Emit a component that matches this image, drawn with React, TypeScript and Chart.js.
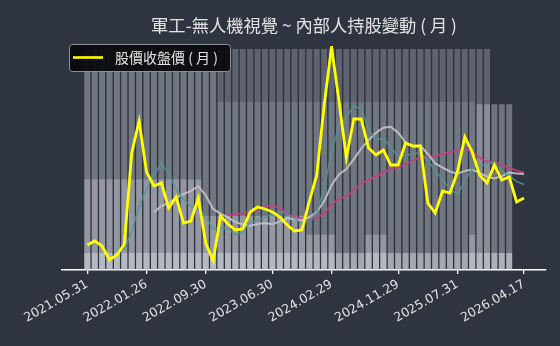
import React, { useEffect, useRef } from 'react';
import { Chart, registerables } from 'chart.js';

Chart.register(...registerables);

const TITLE = '軍工-無人機視覺 ~ 內部人持股變動 ( 月 )';
const LEGEND_LABEL = '股價收盤價 ( 月 )';

const months = [
  '2021.05.31', '2021.06.30', '2021.07.30', '2021.08.31', '2021.09.30', '2021.10.29', '2021.11.30', '2021.12.30',
  '2022.01.26', '2022.02.25', '2022.03.31', '2022.04.29', '2022.05.31', '2022.06.30', '2022.07.29', '2022.08.31',
  '2022.09.30', '2022.10.31', '2022.11.30', '2022.12.30',
  '2023.01.31', '2023.02.24', '2023.03.31', '2023.04.28', '2023.05.31', '2023.06.30', '2023.07.31', '2023.08.31',
  '2023.09.28', '2023.10.31', '2023.11.30', '2023.12.29',
  '2024.01.31', '2024.02.29', '2024.03.29', '2024.04.30', '2024.05.31', '2024.06.28', '2024.07.31', '2024.08.30',
  '2024.09.30', '2024.10.30', '2024.11.29', '2024.12.31',
  '2025.01.22', '2025.02.27', '2025.03.31', '2025.04.30', '2025.05.30', '2025.06.30', '2025.07.31', '2025.08.29',
  '2025.09.30', '2025.10.31', '2025.11.28', '2025.12.31',
  '2026.01.30', '2026.02.26', '2026.03.31', '2026.04.17',
];

const tickIndices = [0, 8, 16, 25, 33, 42, 50, 59];

const closePrice = [
  12.5, 14.5, 12, 5, 7.5, 13, 58.5, 74.5, 49, 42,
  43.5, 31, 36.5, 23.5, 24.5, 36, 13.5, 4.5, 27, 23,
  20, 20.5, 29, 31.5, 30.5, 29, 26.5, 22.5, 19.5, 20,
  34.5, 47.5, 82.5, 111.5, 84.5, 56, 75.5, 75.5, 61, 57.5,
  60, 52.5, 52.5, 63.5, 62, 62, 33.5, 28.5, 39.5, 38.5,
  49, 66.5, 59, 47.5, 43.5, 52.5, 45, 46.5, 34, 36,
];

const ma5 = [
  null, null, null, null,
  10.3, 10.4, 19.2, 31.7, 40.5, 47.4, 53.5, 48, 40.4, 35.3,
  31.8, 30.3, 26.8, 20.4, 21.1, 20.8, 17.6, 19, 23.9, 24.8,
  26.3, 28.1, 29.3, 28, 25.6, 23.5, 24.6, 28.8, 40.8, 59.2,
  72.1, 76.4, 82, 80.6, 70.5, 65.1, 65.9, 61.3, 56.7, 57.2,
  58.1, 58.5, 54.7, 49.9, 45.1, 40.4, 37.8, 44.4, 50.5, 52.1,
  53.1, 53.8, 49.5, 47, 44.3, 42.8,
];

const ma10 = [
  null, null, null, null, null, null, null, null, null,
  28.85, 31.95, 33.6, 36.05, 37.9, 39.6, 41.9, 37.4, 30.4, 28.2,
  26.3, 23.95, 22.9, 22.15, 22.95, 23.55, 22.85, 24.15, 25.95, 25.2,
  24.9, 26.35, 29.05, 34.4, 42.4, 47.8, 50.5, 55.4, 60.7, 64.85,
  68.6, 71.15, 71.65, 68.65, 63.85, 61.6, 62.2, 58, 53.3, 51.15,
  49.25, 48.15, 49.55, 50.2, 48.6, 46.75, 45.8, 46.95, 48.75, 48.2, 47.95,
];

const ma20 = [
  null, null, null, null, null, null, null, null, null, null,
  null, null, null, null, null, null, null, null, null,
  27.6, 27.95, 28.25, 29.1, 30.4, 31.6, 32.4, 30.8, 28.2, 26.7,
  25.6, 25.15, 26, 28.3, 32.7, 35.7, 36.7, 39.8, 43.3, 45,
  46.75, 48.75, 50.35, 51.5, 53.1, 54.7, 56.35, 56.7, 57, 58,
  58.9, 59.65, 60.6, 59.4, 56.2, 54.2, 54, 52.5, 51, 49.7, 48.6,
];

// holding layers (%), one value per month up to 2026.02
const holdTotal = [
  100, 100, 100, 100, 100, 100, 100, 100, 100, 100,
  100, 100, 100, 100, 100, 100, 100, 100, 100, 100,
  100, 100, 100, 100, 100, 100, 100, 100, 100, 100,
  100, 100, 100, 100, 100, 100, 100, 100, 100, 100,
  100, 100, 100, 100, 100, 100, 100, 100, 100, 100,
  100, 100, 100, 100, 100, 0, 0, 0,
];
const holdMajor = [
  100, 100, 100, 100, 100, 100, 100, 100, 100, 100,
  100, 100, 100, 100, 100, 100, 100, 100, 76, 76,
  76, 76, 76, 76, 76, 76, 76, 76, 76, 76,
  76, 76, 76, 76, 76, 76, 76, 76, 76, 76,
  76, 76, 76, 76, 76, 76, 76, 76, 76, 76,
  76, 76, 76, 0, 0, 0, 0, 0,
];
const holdDirectors = [
  41, 41, 41, 41, 41, 41, 41, 41, 41, 41,
  41, 41, 41, 41, 41, 41, 24.5, 24.5, 24.5, 24.5,
  24.5, 24.5, 24.5, 24.5, 24.5, 24.5, 24.5, 24.5, 24.5, 24.5,
  16, 16, 16, 16, 0, 0, 0, 0, 16, 16,
  16, 0, 0, 0, 0, 0, 0, 0, 0, 0,
  0, 0, 16, 75, 75, 75, 75, 75,
];
const holdManagers = [
  7.7, 7.7, 7.7, 7.7, 7.7, 7.7, 7.7, 7.7, 7.7, 7.7,
  7.7, 7.7, 7.7, 7.7, 7.7, 7.7, 7.7, 7.7, 7.7, 7.7,
  7.7, 7.7, 7.7, 7.7, 7.7, 7.7, 7.7, 7.7, 7.7, 7.7,
  7.7, 7.7, 7.7, 7.7, 7.7, 7.7, 7.7, 7.7, 7.7, 7.7,
  7.7, 7.7, 7.7, 7.7, 7.7, 7.7, 7.7, 7.7, 7.7, 7.7,
  7.7, 7.7, 7.7, 7.7, 7.7, 7.7, 7.7, 7.7,
];

const BG = '#2f3540';
const TEXT = '#e2e2e2';
const CJK = '"Noto Sans CJK TC", "Noto Sans", sans-serif';

const toXY = (arr: (number | null)[]) => arr.map((v, i) => ({ x: i, y: v }));

const overlayPlugin = {
  id: 'overlay',
  afterDraw(chart: any) {
    const ctx = chart.ctx as CanvasRenderingContext2D;
    const area = chart.chartArea;
    ctx.save();
    // title
    ctx.fillStyle = TEXT;
    ctx.font = `17.3px ${CJK}`;
    ctx.textAlign = 'center';
    ctx.textBaseline = 'middle';
    ctx.fillText(TITLE, (area.left + area.right) / 2, 25);
    // legend box
    const bx = 69, by = 44, bw = 161, bh = 27;
    ctx.beginPath();
    ctx.roundRect(bx + 0.5, by + 0.5, bw, bh, 3);
    ctx.fillStyle = 'rgba(8,9,11,0.92)';
    ctx.fill();
    ctx.strokeStyle = '#8d9197';
    ctx.lineWidth = 1;
    ctx.stroke();
    ctx.beginPath();
    ctx.moveTo(bx + 4, by + 13.5);
    ctx.lineTo(bx + 34, by + 13.5);
    ctx.strokeStyle = '#ffff00';
    ctx.lineWidth = 2.6;
    ctx.stroke();
    ctx.fillStyle = TEXT;
    ctx.font = `14px ${CJK}`;
    ctx.textAlign = 'left';
    ctx.textBaseline = 'middle';
    ctx.fillText(LEGEND_LABEL, bx + 46, by + 14);
    ctx.restore();
  },
};

export default function App() {
  const ref = useRef<HTMLCanvasElement>(null);
  useEffect(() => {
    document.body.style.margin = '0';
    document.body.style.background = BG;
    const barDs = (label: string, data: number[], color: string) => ({
      type: 'bar' as const,
      label,
      data: toXY(data),
      backgroundColor: color,
      borderWidth: 0,
      grouped: false,
      barPercentage: 0.8,
      categoryPercentage: 1,
      yAxisID: 'yHold',
      order: 10,
    });
    const lineDs = (label: string, data: (number | null)[], color: string, width: number, order: number) => ({
      type: 'line' as const,
      label,
      data: toXY(data),
      borderColor: color,
      backgroundColor: color,
      borderWidth: width,
      pointRadius: 0,
      tension: 0,
      spanGaps: false,
      yAxisID: 'yPrice',
      order,
    });
    const chart = new Chart(ref.current as HTMLCanvasElement, {
      type: 'bar',
      data: {
        datasets: [
          lineDs(LEGEND_LABEL, closePrice, '#ffff00', 2.8, 0),
          lineDs('MA5', ma5, 'rgba(80,150,150,0.85)', 1.6, 1),
          lineDs('MA10', ma10, 'rgba(195,195,200,0.9)', 2, 2),
          lineDs('MA20', ma20, 'rgba(200,60,130,0.85)', 2, 3),
          barDs('total', holdTotal, 'rgba(190,195,202,0.33)'),
          barDs('major', holdMajor, 'rgba(190,195,202,0.21)'),
          barDs('directors', holdDirectors, 'rgba(235,238,242,0.34)'),
          barDs('managers', holdManagers, 'rgba(235,238,242,0.5)'),
        ] as any,
      },
      options: {
        responsive: false,
        animation: false,
        devicePixelRatio: 1,
        layout: { padding: { left: 62, right: 14, top: 46, bottom: 0 } },
        plugins: {
          legend: { display: false },
          title: { display: false },
          tooltip: { enabled: false },
        },
        scales: {
          x: {
            type: 'linear',
            min: -3.42,
            max: 61.97,
            offset: false,
            afterBuildTicks: (scale: any) => {
              scale.ticks = tickIndices.map((v) => ({ value: v }));
            },
            afterFit: (scale: any) => {
              scale.height = 76;
            },
            ticks: {
              autoSkip: false,
              minRotation: 30,
              maxRotation: 30,
              padding: 3,
              color: TEXT,
              font: { size: 12.5, family: '"DejaVu Sans", sans-serif' },
              callback: (v: any) => months[Math.round(Number(v))] ?? '',
            },
            grid: {
              display: true,
              offset: false,
              drawOnChartArea: false,
              drawTicks: true,
              tickLength: 4,
              color: '#ffffff',
              lineWidth: 1.3,
            },
            border: { display: true, color: '#ffffff', width: 1.5 },
          },
          yHold: {
            type: 'linear',
            display: false,
            min: 0,
            max: 101.36,
          },
          yPrice: {
            type: 'linear',
            display: false,
            min: 0,
            max: 112,
          },
        },
      } as any,
      plugins: [overlayPlugin],
    });
    return () => chart.destroy();
  }, []);
  return (
    <div style={{ position: 'fixed', left: 0, top: 0, width: 560, height: 346, background: BG }}>
      <canvas ref={ref} width={560} height={346} style={{ display: 'block', width: 560, height: 346 }} />
    </div>
  );
}
